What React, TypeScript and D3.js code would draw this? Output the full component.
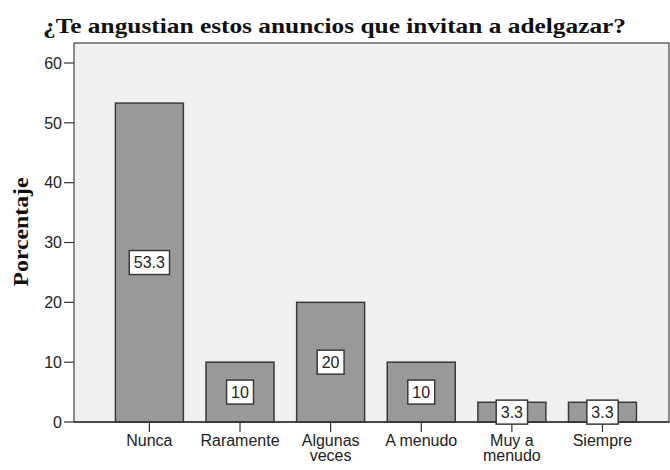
import React, { useEffect, useRef } from "react";
import * as d3 from "d3";

const categories: string[] = ["Nunca", "Raramente", "Algunas veces", "A menudo", "Muy a menudo", "Siempre"];
const categoryLines: string[][] = [["Nunca"], ["Raramente"], ["Algunas", "veces"], ["A menudo"], ["Muy a", "menudo"], ["Siempre"]];
const values: number[] = [53.3, 10, 20, 10, 3.3, 3.3];
const valueLabels: string[] = ["53.3", "10", "20", "10", "3.3", "3.3"];
const yTicks: number[] = [0, 10, 20, 30, 40, 50, 60];
const title = "¿Te angustian estos anuncios que invitan a adelgazar?";
const yTitle = "Porcentaje";

export default function App() {
  const ref = useRef<SVGSVGElement | null>(null);

  useEffect(() => {
    const svg = d3.select(ref.current);
    svg.selectAll("*").remove();
    const W = 670, H = 470;
    const left = 74, right = 669, top = 43, bottom = 422;
    const sans = "'Liberation Sans', Arial, sans-serif";
    const serif = "'Liberation Serif', 'Times New Roman', serif";

    const x = d3.scaleBand<string>().domain(categories).range([left, right])
      .paddingInner(0.25).paddingOuter(0.408).align(0.56);
    const y = d3.scaleLinear().domain([0, 60]).range([bottom, 63]);

    svg.append("rect").attr("x", 0).attr("y", 0).attr("width", W).attr("height", H).attr("fill", "#ffffff");

    // plot frame
    svg.append("rect").attr("x", left).attr("y", top).attr("width", right - left).attr("height", bottom - top)
      .attr("fill", "#f0f0f0").attr("stroke", "#444").attr("stroke-width", 1.2);

    // title
    svg.append("text").attr("x", 43).attr("y", 33).text(title)
      .attr("textLength", 583).attr("lengthAdjust", "spacingAndGlyphs")
      .attr("font-family", serif).attr("font-weight", "bold").attr("font-size", 21).attr("fill", "#111");

    // y title
    svg.append("text").attr("transform", `translate(28,232) rotate(-90)`).attr("text-anchor", "middle")
      .attr("textLength", 109).attr("lengthAdjust", "spacingAndGlyphs")
      .text(yTitle).attr("font-family", serif).attr("font-weight", "bold").attr("font-size", 21).attr("fill", "#111");

    // y axis ticks
    const yg = svg.append("g");
    yTicks.forEach((t) => {
      yg.append("line").attr("x1", 64).attr("x2", left).attr("y1", y(t)).attr("y2", y(t)).attr("stroke", "#333").attr("stroke-width", 1.2);
      yg.append("text").attr("x", 62).attr("y", y(t)).attr("dy", "0.36em").attr("text-anchor", "end")
        .text(String(t)).attr("font-family", sans).attr("font-size", 16).attr("fill", "#222");
    });

    // bars
    const bw = x.bandwidth();
    categories.forEach((c, i) => {
      svg.append("rect").attr("x", x(c)!).attr("y", y(values[i])).attr("width", bw).attr("height", bottom - y(values[i]))
        .attr("fill", "#999999").attr("stroke", "#3a3a3a").attr("stroke-width", 1.5);
    });

    // x axis line
    svg.append("line").attr("x1", left).attr("x2", right).attr("y1", bottom).attr("y2", bottom).attr("stroke", "#333").attr("stroke-width", 1.5);

    // x ticks & labels
    categories.forEach((c, i) => {
      const cx = x(c)! + bw / 2;
      svg.append("line").attr("x1", cx).attr("x2", cx).attr("y1", bottom).attr("y2", bottom + 10).attr("stroke", "#333").attr("stroke-width", 1.2);
      categoryLines[i].forEach((ln, j) => {
        svg.append("text").attr("x", cx).attr("y", 446 + j * 15).attr("text-anchor", "middle").text(ln)
          .attr("font-family", sans).attr("font-size", 16).attr("fill", "#222");
      });
    });

    // value labels
    categories.forEach((c, i) => {
      const cx = x(c)! + bw / 2;
      const cy = (y(values[i]) + bottom) / 2;
      const g = svg.append("g");
      const box = g.append("rect");
      const t = g.append("text").attr("x", cx).attr("y", cy).attr("dy", "0.36em").attr("text-anchor", "middle")
        .text(valueLabels[i]).attr("font-family", sans).attr("font-size", 16).attr("fill", "#222");
      const bb = (t.node() as SVGTextElement).getBBox();
      const w = bb.width + 9;
      const h = 24;
      box.attr("x", cx - w / 2).attr("y", cy - h / 2).attr("width", w).attr("height", h)
        .attr("fill", "#ffffff").attr("stroke", "#3a3a3a").attr("stroke-width", 1.5);
    });
  }, []);

  return <svg ref={ref} width={670} height={470} style={{ display: "block", position: "absolute", left: 0, top: 0 }} />;
}
